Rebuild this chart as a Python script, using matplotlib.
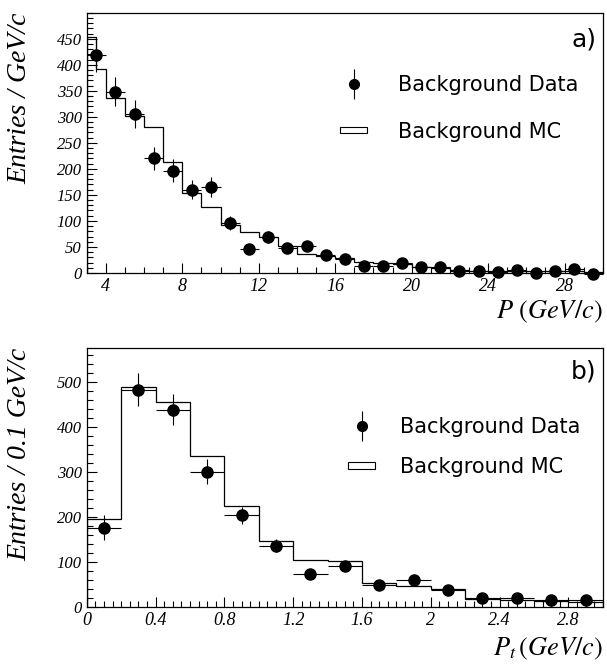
import numpy as np
import matplotlib.pyplot as plt
from matplotlib.lines import Line2D
from matplotlib.patches import Patch, Rectangle
from matplotlib.legend_handler import HandlerPatch
from matplotlib.ticker import MultipleLocator

plt.rcParams['mathtext.fontset'] = 'stix'

# ---- panel a) : momentum P ----
p_centers = np.arange(3.5, 30, 1.0)
p_data = [418, 348, 305, 220, 196, 160, 165, 96, 46, 69, 47, 51, 35, 27,
          13, 13, 19, 11, 11, 3, 3, 2, 5, 0, 3, 7, -2]
p_err = [32, 28, 27, 22, 22, 18, 20, 14, 9, 12, 9, 9, 7, 6,
         5, 5, 5, 4, 4, 3, 3, 3, 3, 3, 3, 3, 3]
p_mc_edges = [3, 3.5, 4, 5, 6, 7, 8, 9, 10, 11, 12, 13, 14, 15, 16, 17, 18,
              19, 20, 21, 22, 23, 24, 25, 26, 27, 28, 29, 30]
p_mc = [453, 392, 337, 302, 280, 213, 154, 127, 93, 78, 69, 51, 36, 33, 28,
        22, 20, 17, 12, 10, 5, 4, 4, 3, 3, 3, 3, 2]

# ---- panel b) : transverse momentum Pt ----
pt_centers = np.arange(0.1, 3.0, 0.2)
pt_data = [176, 482, 438, 300, 203, 136, 74, 90, 48, 59, 37, 19, 21, 15, 16]
pt_err = [28, 37, 35, 28, 19, 15, 10, 11, 8, 9, 7, 6, 6, 5, 5]
pt_mc_edges = np.arange(0, 3.01, 0.2)
pt_mc = [196, 488, 455, 335, 224, 146, 104, 102, 53, 46, 40, 18, 16, 13, 10]

serif = 'Liberation Serif'
sans = 'DejaVu Sans'


def make_box(legend, orig_handle, xdescent, ydescent, width, height, fontsize):
    h = height * 0.45
    return Rectangle((-xdescent, -ydescent + (height - h) / 2), width, h)


def style_axes(ax):
    for s in ax.spines.values():
        s.set_linewidth(0.9)
    ax.tick_params(which='both', direction='in', top=False, right=False,
                   width=0.8, labelsize=12)
    ax.tick_params(axis='x', labelsize=13)
    ax.tick_params(which='major', length=7.5)
    ax.tick_params(which='minor', length=4)
    for lab in ax.get_xticklabels() + ax.get_yticklabels():
        lab.set_fontfamily(serif)
        lab.set_fontstyle('italic')


def add_legend(ax, x, y, spacing, pad):
    data_h = (Line2D([], [], marker='o', color='black', ls='none', markersize=7),
              Line2D([], [], marker='|', color='black', ls='none',
                     markersize=22, markeredgewidth=0.8))
    mc_h = Patch(facecolor='white', edgecolor='black', linewidth=0.8)
    ax.legend([data_h, mc_h], ['Background Data', 'Background MC'],
              loc='center left', bbox_to_anchor=(x, y), frameon=False,
              prop={'family': sans, 'size': 15}, handlelength=1.3,
              handletextpad=pad, labelspacing=spacing,
              handler_map={Patch: HandlerPatch(patch_func=make_box)})


fig = plt.figure(figsize=(6.07, 6.69), dpi=100)
ax1 = fig.add_axes([0.143, 0.592, 0.850, 0.389])
ax2 = fig.add_axes([0.143, 0.0927, 0.850, 0.3875])

# panel a
ax1.stairs(p_mc, p_mc_edges, color='black', linewidth=0.9)
ax1.errorbar(p_centers, p_data, yerr=p_err, xerr=0.5, fmt='o', color='black',
             markersize=8, elinewidth=0.8, capsize=0, clip_on=False)
ax1.set_xlim(3, 30)
ax1.set_ylim(0, 500)
ax1.xaxis.set_major_locator(MultipleLocator(4))
ax1.xaxis.set_minor_locator(MultipleLocator(1))
ax1.yaxis.set_major_locator(MultipleLocator(50))
ax1.yaxis.set_minor_locator(MultipleLocator(10))
ax1.set_yticks(np.arange(0, 451, 50))
ax1.set_xticks(np.arange(4, 29, 4))
style_axes(ax1)
ax1.set_ylabel('Entries / GeV/c', family=serif, style='italic', fontsize=20,
               loc='top')
ax1.yaxis.set_label_coords(-0.105, 1.0)
ax1.set_xlabel(r'$P\ (GeV/c)$', fontsize=19, loc='right')
ax1.xaxis.set_label_coords(1.0, -0.1)
ax1.text(0.988, 0.896, 'a)', transform=ax1.transAxes, ha='right', va='center',
         family=sans, fontsize=18)
add_legend(ax1, 0.455, 0.632, 1.25, 1.45)

# panel b
ax2.stairs(pt_mc, pt_mc_edges, color='black', linewidth=0.9)
ax2.errorbar(pt_centers, pt_data, yerr=pt_err, xerr=0.1, fmt='o', color='black',
             markersize=8, elinewidth=0.8, capsize=0, clip_on=False)
ax2.set_xlim(0, 3)
ax2.set_ylim(0, 575)
ax2.xaxis.set_major_locator(MultipleLocator(0.4))
ax2.xaxis.set_minor_locator(MultipleLocator(0.05))
ax2.yaxis.set_major_locator(MultipleLocator(100))
ax2.yaxis.set_minor_locator(MultipleLocator(20))
ax2.set_xticks(np.arange(0, 2.81, 0.4))
ax2.set_xticklabels(['0', '0.4', '0.8', '1.2', '1.6', '2', '2.4', '2.8'])
style_axes(ax2)
ax2.set_ylabel('Entries / 0.1 GeV/c', family=serif, style='italic', fontsize=20,
               loc='top')
ax2.yaxis.set_label_coords(-0.105, 1.0)
ax2.set_xlabel(r'$P_t\,(GeV/c)$', fontsize=19, loc='right')
ax2.xaxis.set_label_coords(1.0, -0.11)
ax2.text(0.988, 0.907, 'b)', transform=ax2.transAxes, ha='right', va='center',
         family=sans, fontsize=18)
add_legend(ax2, 0.47, 0.618, 0.95, 1.2)

fig.savefig('out.png', dpi=100)
